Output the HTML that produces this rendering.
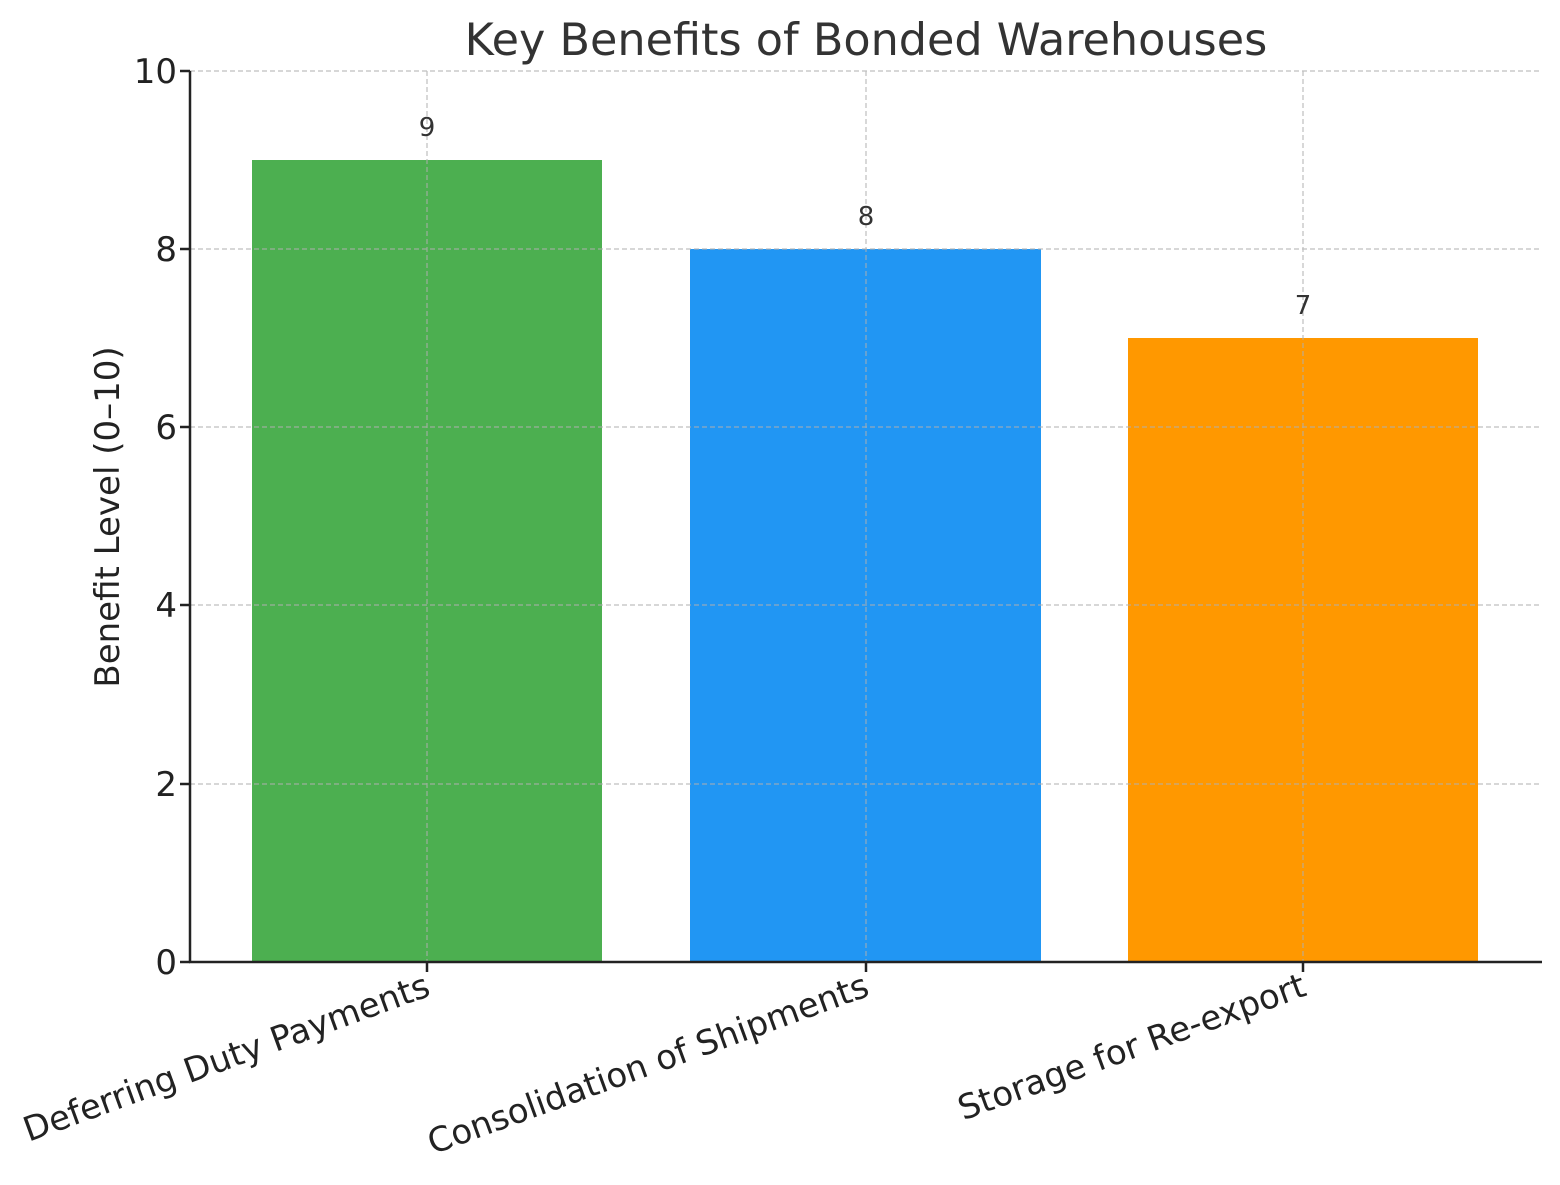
<!DOCTYPE html>
<html><head><meta charset="utf-8"><style>html,body{margin:0;padding:0;background:#fff}</style></head>
<body>
<svg width="1560" height="1180" xmlns="http://www.w3.org/2000/svg" font-family="'DejaVu Sans','Liberation Sans',sans-serif">
<rect width="1560" height="1180" fill="#fff"/>
<rect x="252" y="160" width="350" height="802" fill="#4caf50"/>
<rect x="690" y="249" width="351" height="713" fill="#2196f3"/>
<rect x="1128" y="338" width="350" height="624" fill="#ff9800"/>
<g stroke="#b0b0b0" stroke-width="1.2" stroke-dasharray="5,3" opacity="0.8">
<line x1="190" y1="71" x2="1540" y2="71"/>
<line x1="190" y1="249" x2="1540" y2="249"/>
<line x1="190" y1="427" x2="1540" y2="427"/>
<line x1="190" y1="605" x2="1540" y2="605"/>
<line x1="190" y1="784" x2="1540" y2="784"/>
<line x1="427" y1="71" x2="427" y2="962"/>
<line x1="866" y1="71" x2="866" y2="962"/>
<line x1="1303" y1="71" x2="1303" y2="962"/>
</g>
<g stroke="#222" stroke-width="2.5">
<line x1="190" y1="71" x2="190" y2="963"/>
<line x1="189" y1="962" x2="1542" y2="962"/>
<line x1="180" y1="71" x2="190" y2="71"/>
<line x1="180" y1="249" x2="190" y2="249"/>
<line x1="180" y1="427" x2="190" y2="427"/>
<line x1="180" y1="605" x2="190" y2="605"/>
<line x1="180" y1="784" x2="190" y2="784"/>
<line x1="180" y1="962" x2="190" y2="962"/>
<line x1="427" y1="962" x2="427" y2="972"/>
<line x1="866" y1="962" x2="866" y2="972"/>
<line x1="1303" y1="962" x2="1303" y2="972"/>
</g>
<g font-size="34" fill="#222" text-anchor="end">
<text x="177" y="83">10</text>
<text x="177" y="261">8</text>
<text x="177" y="439">6</text>
<text x="177" y="617">4</text>
<text x="177" y="796">2</text>
<text x="177" y="974">0</text>
</g>
<g font-size="26" fill="#333" text-anchor="middle">
<text x="427" y="136">9</text>
<text x="866" y="225">8</text>
<text x="1303" y="314">7</text>
</g>
<g font-size="34" fill="#222" text-anchor="end">
<text transform="translate(432,995) rotate(-20)">Deferring Duty Payments</text>
<text transform="translate(871,995) rotate(-20)">Consolidation of Shipments</text>
<text transform="translate(1308,995) rotate(-20)">Storage for Re-export</text>
</g>
<text transform="translate(119,517) rotate(-90)" font-size="34" fill="#222" text-anchor="middle">Benefit Level (0–10)</text>
<text x="866" y="55" font-size="44.5" fill="#333" text-anchor="middle">Key Benefits of Bonded Warehouses</text>
</svg>
</body></html>
